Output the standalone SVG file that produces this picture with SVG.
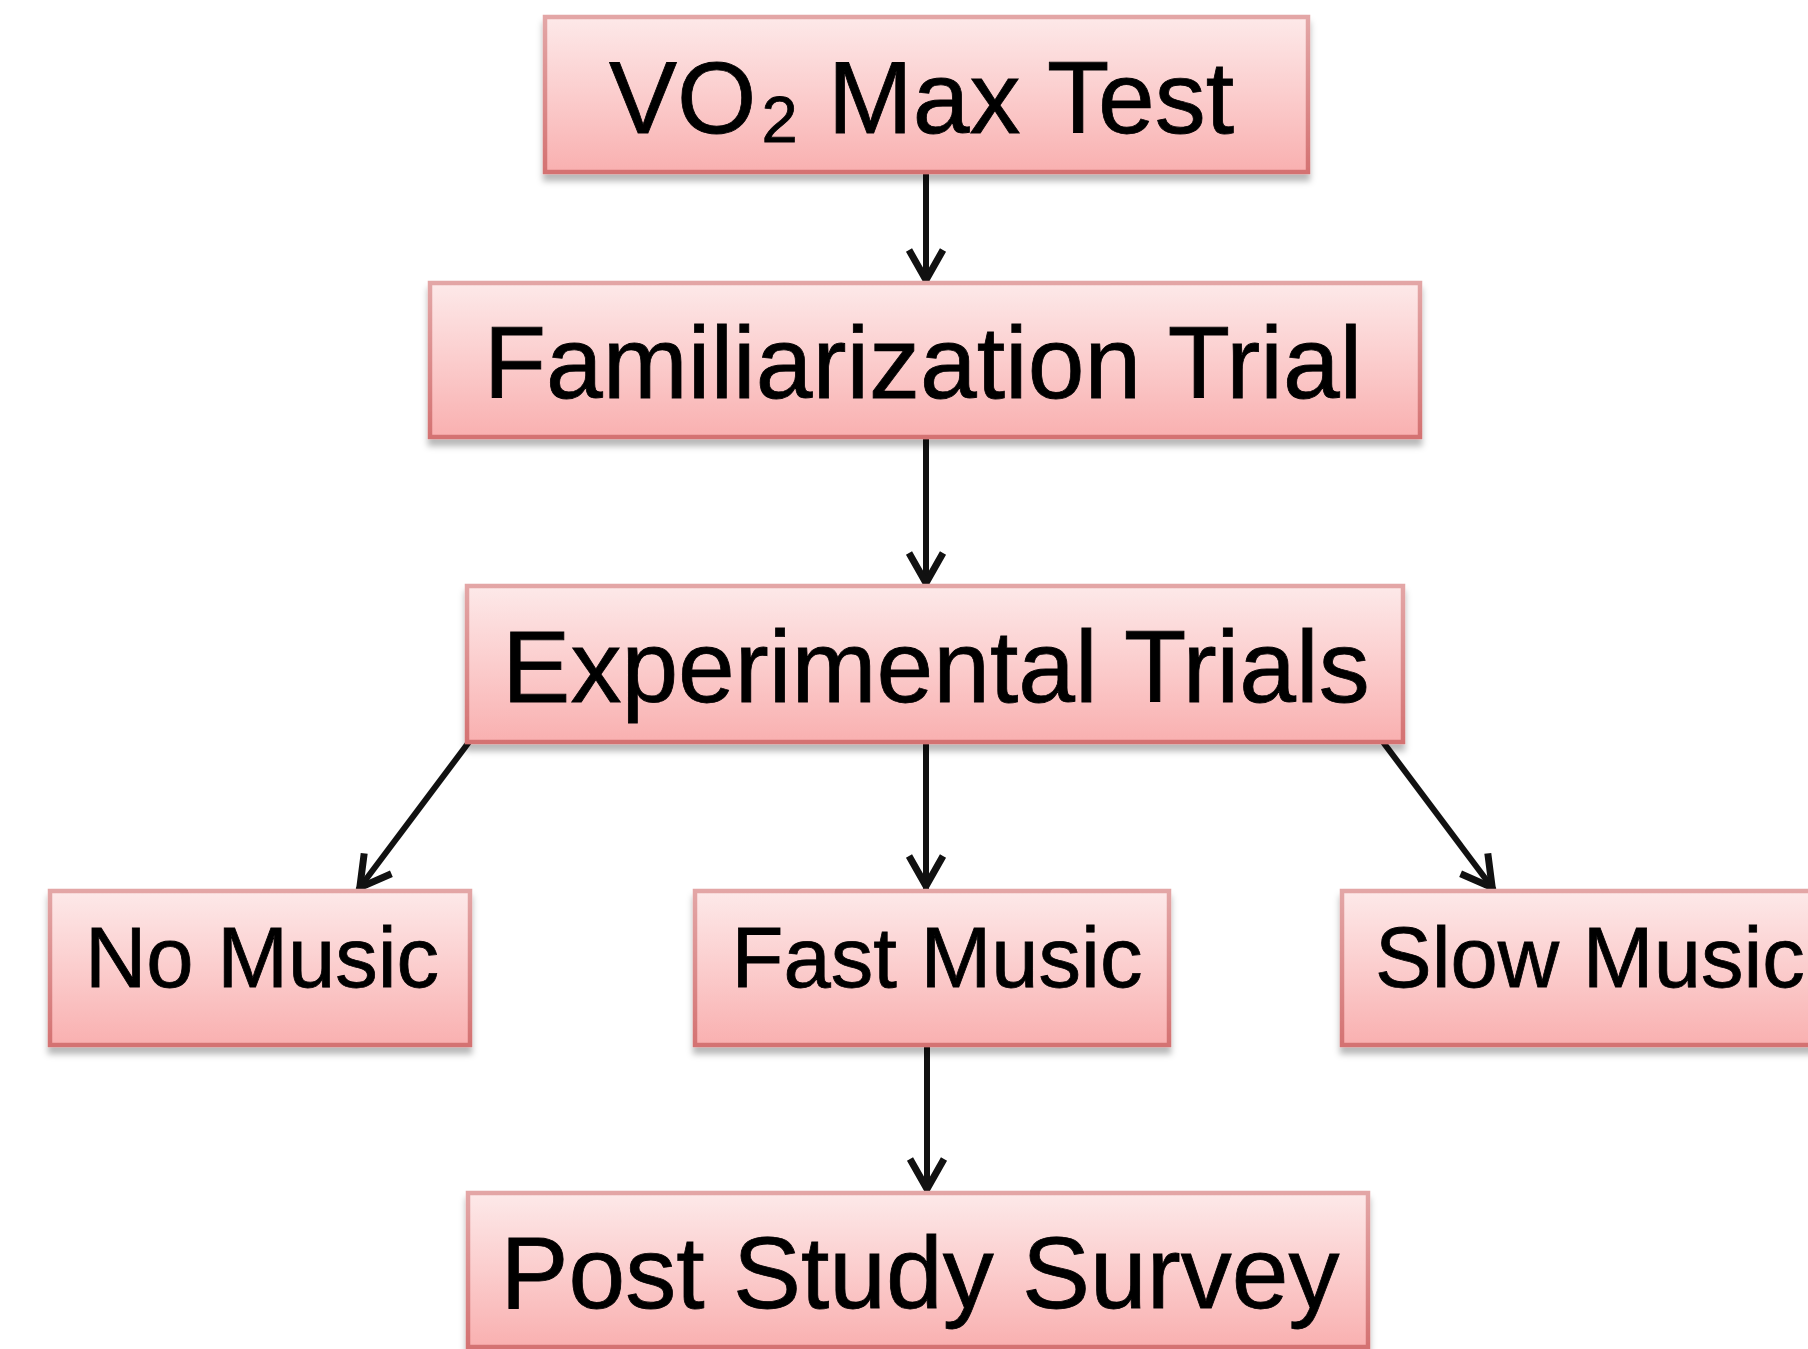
<svg xmlns="http://www.w3.org/2000/svg" width="1808" height="1349" viewBox="0 0 1808 1349">
  <defs>
    <linearGradient id="boxFill" x1="0" y1="0" x2="0" y2="1">
      <stop offset="0" stop-color="#fde9e9"/>
      <stop offset="0.5" stop-color="#fbcdcd"/>
      <stop offset="1" stop-color="#f9b0b0"/>
    </linearGradient>
    <linearGradient id="boxStroke" x1="0" y1="0" x2="0" y2="1">
      <stop offset="0" stop-color="#e3a6a6"/>
      <stop offset="1" stop-color="#d47272"/>
    </linearGradient>
    <filter id="shadow" x="-5%" y="-10%" width="110%" height="130%">
      <feDropShadow dx="0" dy="7" stdDeviation="3" flood-color="#000" flood-opacity="0.28"/>
    </filter>
    <marker id="arrow" markerUnits="userSpaceOnUse" viewBox="-40 -22 44 44" markerWidth="44" markerHeight="44" refX="0" refY="0" orient="auto">
      <path d="M -33 -17 L -3 0 L -33 17" fill="none" stroke="#111" stroke-width="7" stroke-linejoin="miter"/>
    </marker>
    <style>
      .box { fill: url(#boxFill); stroke: url(#boxStroke); stroke-width: 4.5; filter: url(#shadow); }
      .big { font-family: "Liberation Sans", Arial, sans-serif; font-size: 102px; fill: #000; stroke: #000; stroke-width: 0.8; }
      .small { font-family: "Liberation Sans", Arial, sans-serif; font-size: 85px; fill: #000; stroke: #000; stroke-width: 0.8; }
      .edge { fill: none; stroke: #111; stroke-width: 6; marker-end: url(#arrow); }
    </style>
  </defs>

  <rect width="1808" height="1349" fill="#fff"/>

  <g id="connectors">
    <line class="edge" x1="926" y1="172" x2="926" y2="283"/>
    <line class="edge" x1="926" y1="437" x2="926" y2="586"/>
    <line class="edge" x1="469" y1="742" x2="358" y2="890"/>
    <line class="edge" x1="926" y1="742" x2="926" y2="889"/>
    <line class="edge" x1="1383" y1="742" x2="1494" y2="890"/>
    <line class="edge" x1="927" y1="1045" x2="927" y2="1192"/>
  </g>

  <g id="vo2max">
    <rect class="box" x="545" y="17" width="763" height="155"/>
    <text class="big" x="609" y="133">VO<tspan font-size="65" dx="5" dy="9">2</tspan><tspan dx="2" dy="-9"> Max Test</tspan></text>
  </g>

  <g id="familiarization">
    <rect class="box" x="430" y="283" width="990" height="154"/>
    <text class="big" x="923" y="398" text-anchor="middle">Familiarization Trial</text>
  </g>

  <g id="experimental">
    <rect class="box" x="467" y="586" width="936" height="156"/>
    <text class="big" x="936" y="702" text-anchor="middle">Experimental Trials</text>
  </g>

  <g id="no-music">
    <rect class="box" x="50" y="891" width="420" height="154"/>
    <text class="small" x="262" y="987" text-anchor="middle">No Music</text>
  </g>

  <g id="fast-music">
    <rect class="box" x="695" y="891" width="474" height="154"/>
    <text class="small" x="937" y="987" text-anchor="middle">Fast Music</text>
  </g>

  <g id="slow-music">
    <rect class="box" x="1342" y="891" width="480" height="154"/>
    <text class="small" x="1375" y="987">Slow Music</text>
  </g>

  <g id="post-survey">
    <rect class="box" x="468" y="1193" width="900" height="154"/>
    <text class="big" x="920" y="1308" text-anchor="middle">Post Study Survey</text>
  </g>
</svg>
